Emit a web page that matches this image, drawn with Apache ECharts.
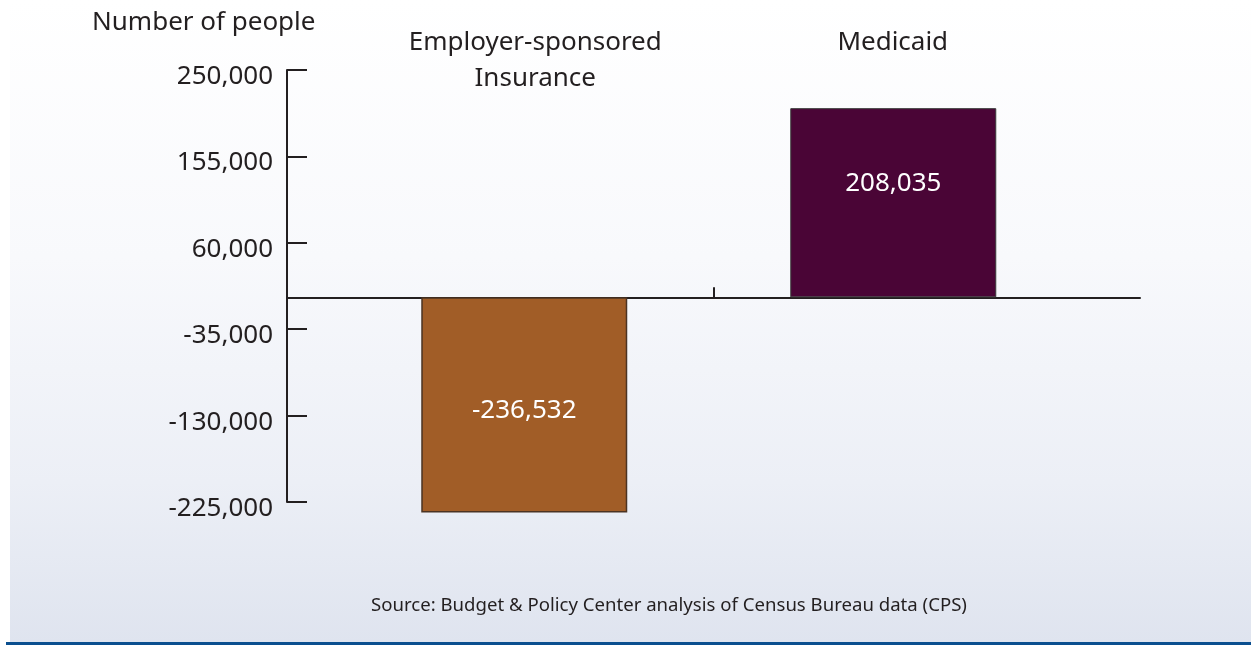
<!DOCTYPE html>
<html>
<head>
<meta charset="utf-8">
<script src="https://cdn.jsdelivr.net/npm/echarts@6/dist/echarts.min.js"></script>
<style>
html,body{margin:0;padding:0;background:#ffffff;}
#chart{width:1251px;height:645px;}
</style>
</head>
<body>
<div id="chart"></div>
<script>
// ---- data ----
const categories = ['Employer-sponsored\nInsurance', 'Medicaid'];
const values = [-236532, 208035];
const yMin = -225000;
const yMax = 250000;
const yInterval = 95000;
const yAxisTitle = 'Number of people';
const sourceText = 'Source: Budget & Policy Center analysis of Census Bureau data (CPS)';

const FONT = '"Noto Sans", "Open Sans", sans-serif';
const INK = '#231F20';
const fmt = v => Number(v).toLocaleString('en-US');

const chart = echarts.init(document.getElementById('chart'), null, {renderer: 'canvas'});

const BAR_GAP = '-72.1%';

const option = {
  animation: false,
  backgroundColor: '#ffffff',
  textStyle: {fontFamily: FONT},
  graphic: [
    {
      type: 'rect', z: -10, silent: true,
      shape: {x: 10, y: 0, width: 1241, height: 642},
      style: {
        fill: new echarts.graphic.LinearGradient(0, 0, 0, 1, [
          {offset: 0, color: '#ffffff'},
          {offset: 0.4, color: '#f8f9fc'},
          {offset: 0.75, color: '#eceff6'},
          {offset: 1, color: '#dfe4ef'}
        ])
      }
    },
    {
      type: 'rect', z: -9, silent: true,
      shape: {x: 6, y: 642, width: 1245, height: 3},
      style: {fill: '#0B4F8F'}
    }
  ],
  title: [
    {
      text: yAxisTitle, left: 87, top: 5,
      textStyle: {fontFamily: FONT, fontSize: 26, fontWeight: 'normal', color: INK}
    },
    {
      text: sourceText, left: 366, top: 591,
      textStyle: {fontFamily: FONT, fontSize: 18.6, fontWeight: 'normal', color: INK}
    }
  ],
  grid: {left: 287, right: 111, top: 70, bottom: 143, containLabel: false},
  xAxis: [
    {
      type: 'category',
      data: categories,
      position: 'bottom',
      axisLine: {onZero: true, lineStyle: {color: INK, width: 2}},
      axisTick: {show: false},
      axisLabel: {show: false},
      splitLine: {show: false}
    },
    {
      type: 'category',
      data: categories,
      position: 'top',
      axisLine: {show: false},
      axisTick: {show: false},
      splitLine: {show: false},
      axisLabel: {
        show: true,
        margin: 45,
        verticalAlign: 'top',
        formatter: (v, i) => i === 0 ? '{a|' + v + '}' : '{b|' + v + '}',
        rich: {
          a: {fontFamily: FONT, fontSize: 26, color: INK, lineHeight: 36, padding: [0, 0, 0, 70]},
          b: {fontFamily: FONT, fontSize: 26, color: INK, lineHeight: 36, padding: [0, 68, 0, 0]}
        }
      }
    },
    {
      // divider tick between the two categories on the zero line
      type: 'value',
      min: 0,
      max: categories.length,
      position: 'bottom',
      axisLine: {show: true, onZero: true, onZeroAxisIndex: 0, lineStyle: {color: INK, width: 2, opacity: 0}},
      axisTick: {show: true, inside: true, length: 10, customValues: [1], lineStyle: {color: INK, width: 2}},
      axisLabel: {show: false},
      splitLine: {show: false}
    }
  ],
  yAxis: {
    type: 'value',
    min: yMin,
    max: yMax,
    interval: yInterval,
    axisLine: {show: true, lineStyle: {color: INK, width: 2}},
    axisTick: {show: true, inside: true, length: 20, lineStyle: {color: INK, width: 2}},
    axisLabel: {
      margin: 14,
      formatter: v => '{v|' + fmt(v) + '}',
      rich: {
        v: {fontFamily: FONT, fontSize: 26, color: INK, padding: [13, 0, 0, 0]}
      }
    },
    splitLine: {show: false}
  },
  series: [
    {
      name: categories[1],
      type: 'bar',
      xAxisIndex: 0,
      barWidth: 206,
      barGap: BAR_GAP,
      clip: false,
      data: values.map((v, i) => i === 1 ? v : '-'),
      itemStyle: {color: '#4A0536', borderColor: '#3a3a3a', borderWidth: 1},
      label: {
        show: true, position: 'inside', offset: [0, -19],
        color: '#ffffff', fontFamily: FONT, fontSize: 26,
        formatter: p => fmt(p.value)
      }
    },
    {
      name: categories[0],
      type: 'bar',
      xAxisIndex: 0,
      barWidth: 206,
      barGap: BAR_GAP,
      clip: false,
      data: values.map((v, i) => i === 0 ? v : '-'),
      itemStyle: {color: '#A15D27', borderColor: '#4B3322', borderWidth: 1.5},
      label: {
        show: true, position: 'inside', offset: [0, 6],
        color: '#ffffff', fontFamily: FONT, fontSize: 26,
        formatter: p => fmt(p.value)
      }
    },
    {
      // empty layout slot so the two bars sit off-centre as in the original
      name: 'spacer',
      type: 'bar',
      xAxisIndex: 0,
      barWidth: 158,
      barGap: BAR_GAP,
      silent: true,
      data: categories.map(() => '-')
    }
  ]
};

chart.setOption(option);
</script>
</body>
</html>
